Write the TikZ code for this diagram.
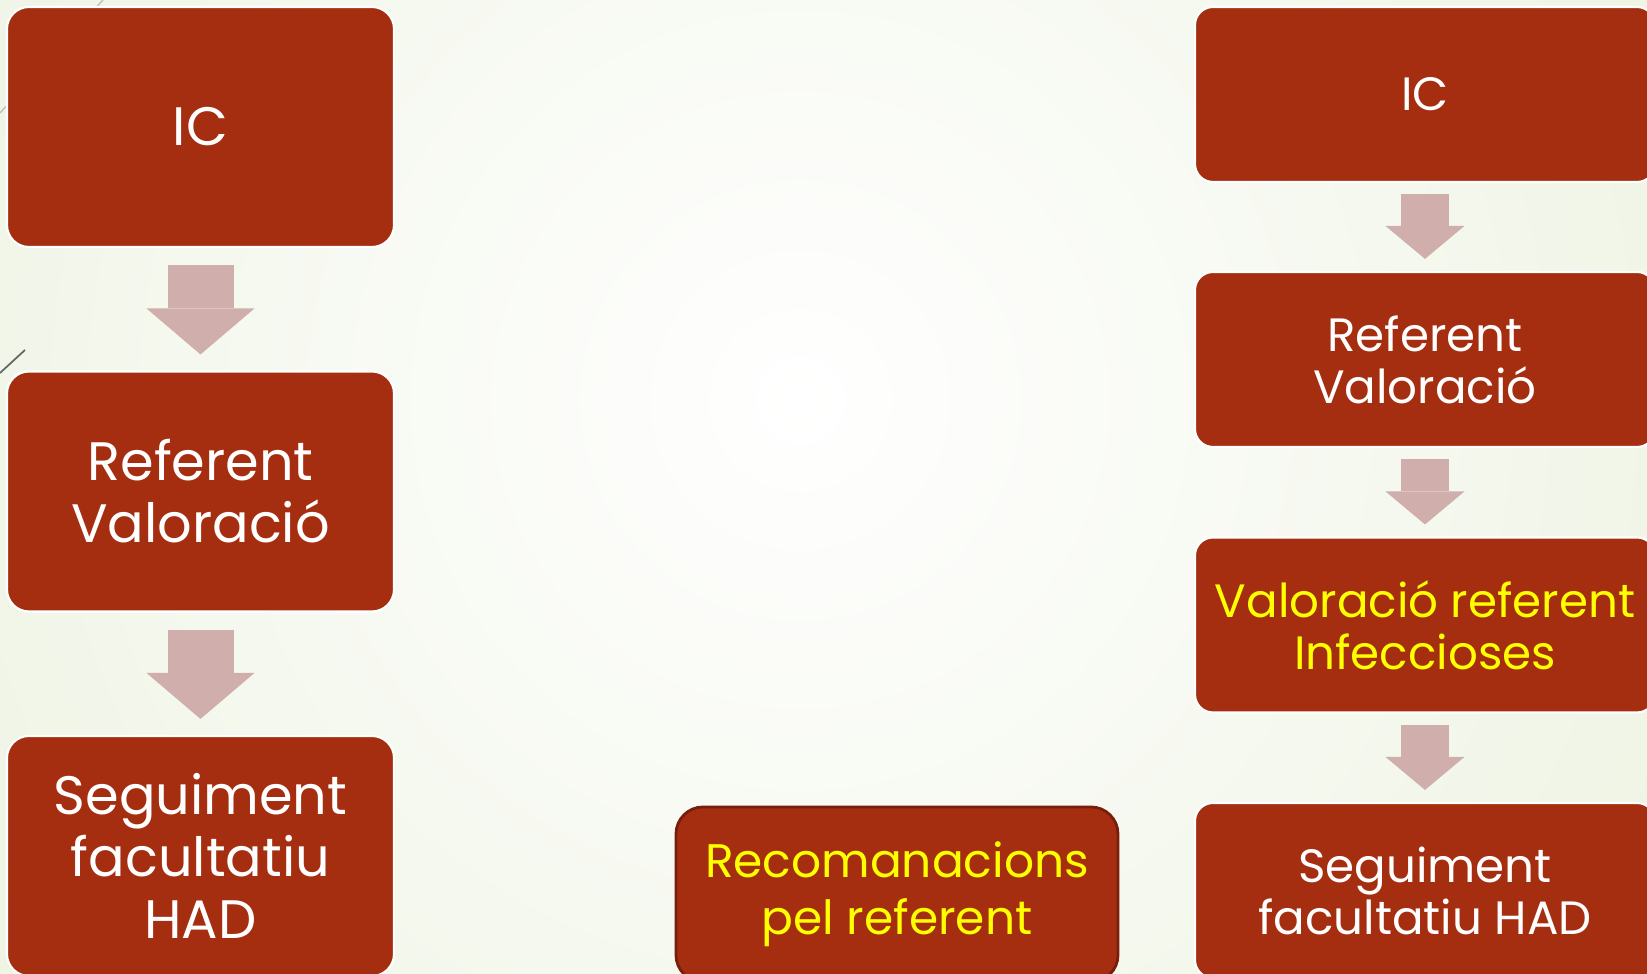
\documentclass[tikz,border=0pt]{standalone}
\usepackage{fontspec}
\setmainfont{Poppins}
\usetikzlibrary{arrows.meta,positioning}
\definecolor{boxred}{RGB}{166,46,16}
\definecolor{notered}{RGB}{120,30,10}
\definecolor{arrowpink}{RGB}{207,174,172}
\definecolor{hiyellow}{RGB}{255,255,0}
\definecolor{bggreen}{RGB}{230,238,214}
\begin{document}
\begin{tikzpicture}[
    box/.style={fill=boxred, draw=white, line width=0.6pt, rounded corners=0.22cm, align=center, text=white, inner sep=2pt},
    bigbox/.style={box, minimum width=3.87cm, minimum height=2.40cm, font=\fontsize{15.4}{17.6}\selectfont},
    smallbox/.style={box, rounded corners=0.18cm, minimum width=4.60cm, minimum height=1.75cm, font=\fontsize{13.3}{14.8}\selectfont},
    notebox/.style={box, draw=notered, line width=0.8pt, rounded corners=0.27cm, minimum width=4.42cm, minimum height=1.75cm, text=hiyellow, font=\fontsize{13.4}{16.2}\selectfont},
    bigarr/.style={draw=arrowpink, line width=0.66cm, -{Triangle[length=0.46cm, width=1.08cm, line width=0pt]}},
    smallarr/.style={draw=arrowpink, line width=0.48cm, -{Triangle[length=0.33cm, width=0.79cm, line width=0pt]}}
]
% background
\useasboundingbox (0,0) rectangle (16.47,-9.74);
\clip (0,0) rectangle (16.47,-9.74);
\fill[bggreen] (0,0) rectangle (16.47,-9.74);
\shade[inner color=white, outer color=bggreen] (8.0,-4.0) circle (15);
\draw[black!25, line width=0.4pt] (1.03,0) -- (0,-1.13);
\draw[black!60, line width=0.5pt] (0.25,-3.50) -- (0,-3.73);

% left column
\node[bigbox] (ic1) at (2.005,-1.27) {IC};
\node[bigbox] (ref1) at (2.005,-4.915) {Referent\\Valoració};
\node[bigbox] (seg1) at (2.005,-8.56) {Seguiment\\facultatiu\\HAD};

% right column
\node[smallbox] (ic2) at (14.25,-0.945) {IC};
\node[smallbox] (ref2) at (14.25,-3.595) {Referent\\Valoració};
\node[smallbox, text=hiyellow] (inf2) at (14.25,-6.25) {Valoració referent\\Infeccioses};
\node[smallbox] (seg2) at (14.25,-8.905) {Seguiment\\facultatiu HAD};

% note
\node[notebox] (rec) at (8.97,-8.945) {Recomanacions\\pel referent};

\draw[bigarr] ([yshift=-0.17cm]ic1.south) -- ([yshift=0.16cm]ref1.north);
\draw[bigarr] ([yshift=-0.17cm]ref1.south) -- ([yshift=0.16cm]seg1.north);
\draw[smallarr] ([yshift=-0.11cm]ic2.south) -- ([yshift=0.12cm]ref2.north);
\draw[smallarr] ([yshift=-0.11cm]ref2.south) -- ([yshift=0.12cm]inf2.north);
\draw[smallarr] ([yshift=-0.11cm]inf2.south) -- ([yshift=0.12cm]seg2.north);
\end{tikzpicture}
\end{document}
